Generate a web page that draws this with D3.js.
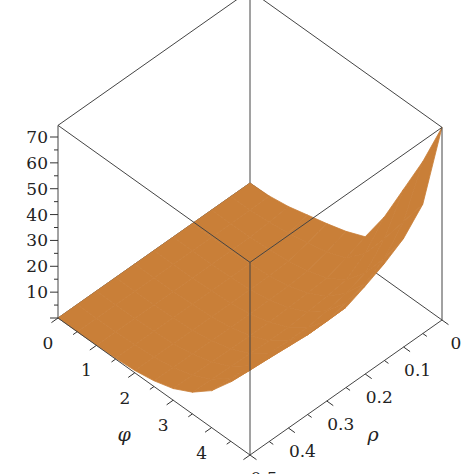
<!DOCTYPE html>
<html lang="en">
<head>
  <meta charset="UTF-8">
  <title>surface</title>
  <style>
    html, body { margin: 0; background: #fff; }
    svg text { font-family: 'DejaVu Serif', 'Liberation Serif', serif; }
  </style>
  <script src="https://cdn.jsdelivr.net/npm/d3@7"></script>
</head>
<body>
  <script>
    const width = 474
    const height = 474

    // data: z(phi, rho), rows = rho, columns = phi
    const phiValues = [0, 0.5, 1, 1.5, 2, 2.5, 3, 3.5, 4, 4.5, 5]
    const rhoValues = [0, 0.05, 0.1, 0.15, 0.2, 0.25, 0.3, 0.35, 0.4, 0.45, 0.5]
    const zValues = [
      [0, 0.3, 1.5, 3.5, 5.5, 7.8, 11, 24, 40, 56, 74.5],
      [0, 0.1, 0.6, 1.8, 3.2, 5, 8, 15, 26, 38, 50],
      [0, 0, 0.2, 0.6, 1.5, 3, 5.5, 10, 18, 29, 42],
      [0, 0, 0.1, 0.3, 1, 2.3, 4.9, 9, 15.4, 24.6, 37.5],
      [0, 0, 0.1, 0.3, 0.9, 2.1, 4.4, 8.2, 13.9, 22.3, 34],
      [0, 0, 0, 0.3, 0.8, 1.9, 4.0, 7.4, 12.7, 20.3, 31],
      [0, 0, 0, 0.3, 0.8, 1.9, 4.0, 7.4, 12.7, 20.3, 31],
      [0, 0, 0.1, 0.3, 0.8, 2.0, 4.1, 7.7, 13.1, 21.0, 32],
      [0, 0, 0.1, 0.3, 0.8, 2.1, 4.3, 7.9, 13.5, 21.7, 33],
      [0, 0, 0.1, 0.3, 0.9, 2.1, 4.4, 8.2, 13.9, 22.3, 34],
      [0, 0, 0.1, 0.3, 0.9, 2.2, 4.5, 8.4, 14.3, 23.0, 35]
    ]
    const phiTicks = [0, 1, 2, 3, 4, 5]
    const rhoTicks = [0, 0.1, 0.2, 0.3, 0.4, 0.5]
    const zTicks = [10, 20, 30, 40, 50, 60, 70]
    const zMax = 74.5

    const svg = d3.select('body').append('svg')
      .attr('width', width)
      .attr('height', height)

    // oblique projection: phi runs to the lower right, rho to the upper left
    const uScale = d3.scaleLinear().domain([0, 5]).range([0, 1])
    const vScale = d3.scaleLinear().domain([0.5, 0]).range([0, 1])
    const zScale = d3.scaleLinear().domain([0, 70]).range([0, 181])
    const proj = (phi, rho, z) => {
      const u = uScale(phi), v = vScale(rho)
      return [58 + 192 * u + 192 * v, 318 + 137 * u - 135 * v - zScale(z)]
    }
    const line = d3.line()
    const boxLine = (a, b) => svg.append('path')
      .attr('d', line([proj(...a), proj(...b)]))
      .attr('stroke', '#444').attr('stroke-width', 1).attr('fill', 'none')

    // back box edges
    boxLine([0, 0, 0], [0, 0, zMax])
    boxLine([0, 0.5, 0], [0, 0, 0])
    boxLine([0, 0, 0], [5, 0, 0])
    boxLine([0, 0.5, zMax], [0, 0, zMax])
    boxLine([0, 0, zMax], [5, 0, zMax])

    // surface
    const quads = []
    for (let i = 0; i < rhoValues.length - 1; i++) {
      for (let j = 0; j < phiValues.length - 1; j++) {
        quads.push([
          proj(phiValues[j], rhoValues[i], zValues[i][j]),
          proj(phiValues[j + 1], rhoValues[i], zValues[i][j + 1]),
          proj(phiValues[j + 1], rhoValues[i + 1], zValues[i + 1][j + 1]),
          proj(phiValues[j], rhoValues[i + 1], zValues[i + 1][j])
        ])
      }
    }
    svg.append('g').selectAll('path')
      .data(quads)
      .enter()
      .append('path')
      .attr('d', d => line(d) + 'Z')
      .attr('fill', '#c97f38')
      .attr('stroke', '#c97f38')
      .attr('stroke-width', 0.8)
      .attr('stroke-linejoin', 'round')

    // front box edges
    boxLine([0, 0.5, 0], [0, 0.5, zMax])
    boxLine([5, 0, 0], [5, 0, zMax])
    boxLine([5, 0.5, 0], [5, 0.5, zMax])
    boxLine([0, 0.5, zMax], [5, 0.5, zMax])
    boxLine([5, 0.5, zMax], [5, 0, zMax])
    boxLine([0, 0.5, 0], [5, 0.5, 0])
    boxLine([5, 0.5, 0], [5, 0, 0])

    const ticks = svg.append('g').attr('stroke', '#333').attr('stroke-width', 1)
    const tick = (p, dx, dy) => ticks.append('path').attr('d', line([p, [p[0] + dx, p[1] + dy]]))

    // z axis
    d3.range(0, 75, 5).forEach(z => {
      const p = proj(0, 0.5, z)
      tick(p, z % 10 === 0 ? -8 : -4, 0)
    })
    zTicks.forEach(z => {
      const p = proj(0, 0.5, z)
      svg.append('text').attr('x', p[0] - 10).attr('y', p[1] + 6)
        .attr('text-anchor', 'end').attr('font-size', 17).attr('fill', '#222').text(z)
    })

    // phi axis
    d3.range(0, 5.01, 0.5).forEach(f => {
      const p = proj(f, 0.5, 0)
      const l = f % 1 === 0 ? 8 : 5
      tick(p, -0.82 * l, 0.58 * l)
    })
    phiTicks.forEach(f => {
      const p = proj(f, 0.5, 0)
      svg.append('text').attr('x', p[0] - 10).attr('y', p[1] + 31)
        .attr('text-anchor', 'middle').attr('font-size', 17).attr('fill', '#222').text(f)
    })
    const pl = proj(2.2, 0.5, 0)
    svg.append('text').attr('x', pl[0] - 25).attr('y', pl[1] + 63)
      .attr('font-size', 19).attr('font-style', 'italic').attr('fill', '#222').text('φ')

    // rho axis
    d3.range(0, 0.501, 0.05).forEach(r => {
      const p = proj(5, r, 0)
      const l = Math.round(r * 100) % 10 === 0 ? 8 : 5
      tick(p, 0.81 * l, 0.58 * l)
    })
    rhoTicks.forEach(r => {
      const p = proj(5, r, 0)
      svg.append('text').attr('x', p[0] + 14).attr('y', p[1] + 29)
        .attr('text-anchor', 'middle').attr('font-size', 17).attr('fill', '#222').text(r)
    })
    const pr = proj(5, 0.22, 0)
    svg.append('text').attr('x', pr[0] + 10).attr('y', pr[1] + 62)
      .attr('font-size', 19).attr('font-style', 'italic').attr('fill', '#222').text('ρ')
  </script>
</body>
</html>
